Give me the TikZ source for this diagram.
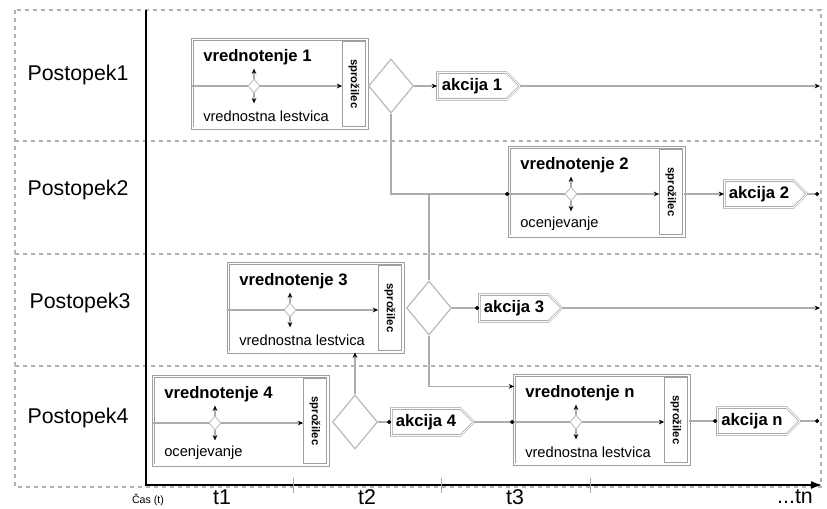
\documentclass[tikz,border=0pt]{standalone}
\usepackage{fontspec}
\setmainfont{Liberation Sans}
\usetikzlibrary{shapes.geometric,shapes.symbols,arrows.meta}
\tikzset{
  lane/.style={dashed,gray!60,line width=0.8pt},
  flow/.style={gray!65,line width=0.9pt},
  tip/.style={-{Stealth[length=4pt,width=3.5pt,black]}},
  dot/.style={-{Circle[length=3pt,black]}},
  evalbox/.style={draw=gray!75,double=white,double distance=1.1pt,line width=0.6pt,
    minimum width=131pt,minimum height=66.5pt,inner sep=0pt},
  trigbox/.style={draw=gray!75,line width=0.6pt,minimum width=17pt,minimum height=64pt,
    inner sep=0pt,font=\bfseries\fontsize{8.5}{10}\selectfont},
  bigdia/.style={diamond,draw=gray!55,line width=0.9pt,fill=white,inner sep=0pt,
    minimum width=33.75pt,minimum height=40.5pt},
  smalldia/.style={diamond,draw=gray!55,line width=0.6pt,fill=white,inner sep=0pt,
    minimum width=9pt,minimum height=10.5pt},
  action/.style={signal,signal to=east,draw=gray!75,double=white,double distance=0.8pt,
    line width=0.5pt,minimum width=62pt,minimum height=20pt,inner sep=2pt,
    font=\bfseries\fontsize{12.5}{14}\selectfont},
  lanetext/.style={font=\fontsize{16}{18}\selectfont},
  titletext/.style={font=\bfseries\fontsize{12.5}{14}\selectfont,inner sep=0pt},
  subtext/.style={font=\fontsize{11}{13}\selectfont,inner sep=0pt}
}
\begin{document}
\begin{tikzpicture}[x=0.75pt,y=-0.75pt]
	\useasboundingbox (0,0) rectangle (827,509);
	% lanes
	\draw[lane] (15,10) rectangle (821,487);
	\foreach \y in {141,254,366}
	\draw[lane] (15,\y) -- (821,\y);
	\node[lanetext] (p1) at (78,75) {Postopek1};
	\node[lanetext] (p2) at (78,190) {Postopek2};
	\node[lanetext] (p3) at (80,303) {Postopek3};
	\node[lanetext] (p4) at (78,418) {Postopek4};
	% time axis
	\draw[line width=2pt,-{Latex[length=9pt,width=6pt]}] (146,10) |- (823,485);
	\foreach \t in {293,441,590}
	\draw[gray!70] (\t,478) -- (\t,493);
	\node[font=\fontsize{8}{9}\selectfont] (cas) at (148,500) {Čas (t)};
	\node[lanetext] (t1) at (222,497) {t1};
	\node[lanetext] (t2) at (367,497) {t2};
	\node[lanetext] (t3) at (515,497) {t3};
	\node[lanetext] (tn) at (795,497) {...tn};
	% evaluation boxes
	\foreach \i/\x/\y/\sub in {1/192/39/vrednostna lestvica,2/509/147/ocenjevanje,
	  3/228/263/vrednostna lestvica,4/153/376/ocenjevanje,n/514/375/vrednostna lestvica}{
	  \node[evalbox,anchor=north west] (v\i) at (\x,\y) {};
	  \node[trigbox,anchor=north east] (s\i) at ([xshift=-1.4pt,yshift=-1.4pt]v\i.north east) {\rotatebox{-90}{sprožilec}};
	  \node[titletext,anchor=west] (h\i) at (\x+11,\y+18) {vrednotenje \i};
	  \node[subtext,anchor=west] (l\i) at (\x+11,\y+77) {\sub};
	  \node[smalldia] (d\i) at (\x+62,\y+47) {};
	  \draw[flow] (v\i.west |- d\i) -- (d\i.west);
	  \draw[flow,tip] (d\i.east) -- (s\i.west |- d\i);
	  \draw[flow,tip] (d\i.north) -- ++(0,-10);
	  \draw[flow,tip] (d\i.south) -- ++(0,10);
	}
	% decisions and actions
	\node[bigdia] (D1) at (391,86) {};
	\node[bigdia] (D3) at (429,308) {};
	\node[bigdia] (D4) at (355,422) {};
	\node[action,anchor=west] (A1) at (437,86) {akcija 1};
	\node[action,anchor=west] (A2) at (724,194) {akcija 2};
	\node[action,anchor=west] (A3) at (479,308) {akcija 3};
	\node[action,anchor=west] (A4) at (391,422) {akcija 4};
	\node[action,anchor=west] (An) at (717,421) {akcija n};
	\coordinate (e1) at (820,86);
	\coordinate (e2) at (819,194);
	\coordinate (e3) at (820,308);
	\coordinate (en) at (819,421);
	% connectors
	\draw[flow,tip] (D1.east) -- (A1.west);
	\draw[flow,tip] (A1.east) -- (e1);
	\draw[flow,dot] (D1.south) |- (v2.west |- d2);
	\draw[flow] (D3.north) -- (D3.north |- d2);
	\draw[flow,tip] (v2.east |- A2.west) -- (A2.west);
	\draw[flow,dot] (A2.east) -- (e2);
	\draw[flow,dot] (D3.east) -- (A3.west);
	\draw[flow,tip] (A3.east) -- (e3);
	\draw[flow,tip] (D3.south) |- ([yshift=25pt]vn.west);
	\draw[flow,tip] (D4.north) -- (D4.north |- v3.south);
	\draw[flow,dot] (D4.east) -- (A4.west);
	\draw[flow,dot] (A4.east) -- (A4.east -| vn.west);
	\draw[flow,dot] (vn.east |- An.west) -- (An.west);
	\draw[flow,dot] (An.east) -- (en);
\end{tikzpicture}
\end{document}
